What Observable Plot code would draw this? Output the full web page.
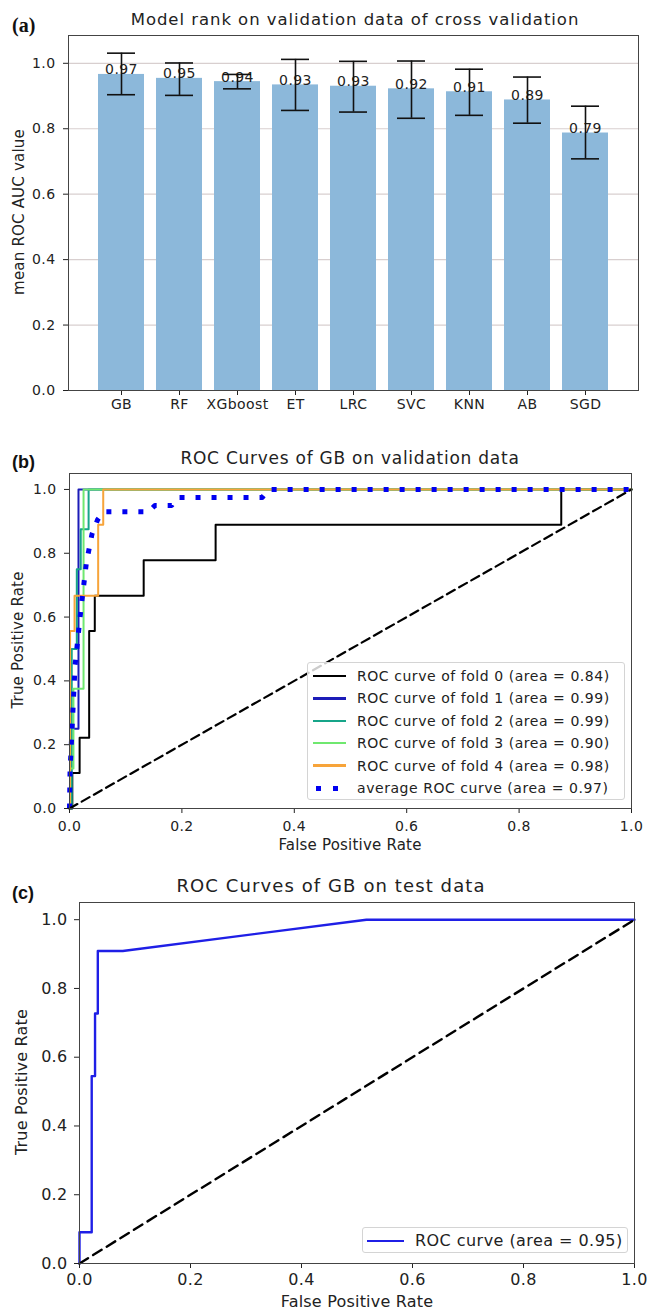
<!DOCTYPE html>
<html><head><meta charset="utf-8">
<script src="https://cdn.jsdelivr.net/npm/d3@7"></script>
<script src="https://cdn.jsdelivr.net/npm/@observablehq/plot@0.6"></script>
<style>
body{margin:0;background:#fff;}
#root{position:relative;width:648px;height:1310px;font-family:"DejaVu Sans",sans-serif;color:#222;overflow:hidden;background:#fff}
.abs{position:absolute;white-space:nowrap;line-height:1}
.panel{position:absolute;left:0}
.letter{font-family:"Liberation Serif",serif;font-weight:bold;font-size:20px;color:#111;transform:translate(0,-50%)}
.letter2{font-family:"Liberation Sans",sans-serif;font-weight:bold;font-size:18px;color:#111;transform:translate(0,-50%)}
.ctr{transform:translate(-50%,-50%)}
.ylab{transform:translate(-50%,-50%) rotate(-90deg)}
.legend{position:absolute;background:rgba(255,255,255,0.8);border:1px solid #d4d4d4;border-radius:3px;box-sizing:border-box}
</style></head><body><div id="root"></div><script>
// ---------- Panel (a) data ----------
const models = ["GB","RF","XGboost","ET","LRC","SVC","KNN","AB","SGD"];
const meanAuc = [0.966,0.954,0.944,0.934,0.930,0.922,0.913,0.888,0.787];
const aucLow  = [0.904,0.902,0.922,0.856,0.851,0.832,0.841,0.817,0.708];
const aucHigh = [1.031,1.001,0.966,1.012,1.006,1.007,0.982,0.958,0.869];
const aucTicks = [0,0.2,0.4,0.6,0.8,1.0];

// ---------- Panel (b) data ----------
const foldNames = ["fold 0","fold 1","fold 2","fold 3","fold 4"];
const foldAreas = ["0.84","0.99","0.99","0.90","0.98"];
const fold0Fpr = [0,0.005,0.005,0.018,0.018,0.035,0.035,0.045,0.045,0.132,0.132,0.26,0.26,0.875,0.875,1];
const fold0Tpr = [0,0,0.111,0.111,0.222,0.222,0.556,0.556,0.667,0.667,0.778,0.778,0.889,0.889,1,1];
const fold1Fpr = [0,0.003,0.003,0.016,0.016,1];
const fold1Tpr = [0,0,0.25,0.25,1,1];
const fold2Fpr = [0,0.004,0.004,0.013,0.013,0.02,0.02,0.034,0.034,1];
const fold2Tpr = [0,0,0.5,0.5,0.75,0.75,0.875,0.875,1,1];
const fold3Fpr = [0,0.001,0.001,0.007,0.007,0.025,0.025,1];
const fold3Tpr = [0,0,0.125,0.125,0.375,0.375,1,1];
const fold4Fpr = [0,0.001,0.001,0.009,0.009,0.051,0.051,0.06,0.06,1];
const fold4Tpr = [0,0,0.556,0.556,0.667,0.667,0.889,0.889,1,1];
const avgArea = "0.97";
const avgFpr = [0,0.001,0.01,0.02,0.03,0.04,0.05,0.06,0.141,0.152,0.182,0.192,0.343,0.354,1];
const avgTpr = [0,0.12,0.45,0.62,0.77,0.86,0.905,0.93,0.93,0.95,0.95,0.975,0.975,1,1];
const chanceFpr = [0,1];
const chanceTpr = [0,1];
const rateTicks = [0,0.2,0.4,0.6,0.8,1.0];

// ---------- Panel (c) data ----------
const testArea = "0.95";
const testFpr = [0,0,0.022,0.022,0.028,0.028,0.033,0.033,0.078,0.517,1];
const testTpr = [0,0.091,0.091,0.545,0.545,0.727,0.727,0.909,0.909,1,1];

// ---------- styles ----------
const foldColors = ["#000000","#1c1cb8","#17a589","#6fe86f","#f7a43a"];
const fmt1 = d3.format(".1f"), fmt2 = d3.format(".2f");
const root = document.getElementById("root");

function place(html, x, y, cls, extra){
  const d = document.createElement("div");
  d.className = "abs " + cls;
  d.style.left = x + "px"; d.style.top = y + "px";
  if (extra) Object.assign(d.style, extra);
  d.textContent = html;
  root.appendChild(d);
  return d;
}
function mount(svg, top){
  svg.classList.add("panel");
  svg.style.top = top + "px";
  root.appendChild(svg);
}
const pts = (xs, ys) => xs.map((x,i)=>({fpr:x, tpr:ys[i]}));

// ================= Panel (a) =================
const barRows = models.map((m,i)=>({model:m, auc:meanAuc[i], lo:aucLow[i], hi:aucHigh[i]}));
const chartA = Plot.plot({
  width:648, height:400, marginTop:7, marginBottom:38, marginLeft:68, marginRight:10,
  style:{fontFamily:"DejaVu Sans", fontSize:"14px", color:"#222", background:"transparent", letterSpacing:"0.4px", overflow:"visible"},
  x:{domain:models, paddingInner:0.2, paddingOuter:0.44, align:0.5, label:null},
  y:{domain:[0,1.085], label:null},
  marks:[
    Plot.gridY(aucTicks.slice(1), {stroke:"#d8cfcf", strokeOpacity:1, strokeWidth:1.2}),
    Plot.barY(barRows, {x:"model", y:"auc", fill:"#8cb8da"}),
    Plot.text(barRows, {x:"model", y:"auc", text:d=>fmt2(d.auc), lineAnchor:"bottom", fill:"#222", fontSize:14}),
    Plot.ruleX(barRows, {x:"model", y1:"lo", y2:"hi", stroke:"#111", strokeWidth:1.6}),
    Plot.tickY(barRows, {x:"model", y:"lo", stroke:"#111", strokeWidth:1.6, insetLeft:9, insetRight:9}),
    Plot.tickY(barRows, {x:"model", y:"hi", stroke:"#111", strokeWidth:1.6, insetLeft:9, insetRight:9}),
    Plot.axisY(aucTicks, {tickSize:5, tickPadding:8, tickFormat:fmt1, label:null}),
    Plot.axisX({tickSize:5, tickPadding:4, label:null}),
    Plot.frame({stroke:"#444"})
  ]
});
mount(chartA, 28);
place("(a)", 12, 25, "letter");
place("Model rank on validation data of cross validation", 355, 20, "ctr", {fontSize:"16.5px", letterSpacing:"0.95px"});
place("mean ROC AUC value", 19, 212, "ylab", {fontSize:"15px", letterSpacing:"0.2px"});

// ================= Panel (b) =================
const foldPts = [pts(fold0Fpr,fold0Tpr), pts(fold1Fpr,fold1Tpr), pts(fold2Fpr,fold2Tpr), pts(fold3Fpr,fold3Tpr), pts(fold4Fpr,fold4Tpr)];
const chartB = Plot.plot({
  width:648, height:385, marginTop:3, marginBottom:47, marginLeft:69, marginRight:17,
  style:{fontFamily:"DejaVu Sans", fontSize:"14px", color:"#222", background:"transparent", letterSpacing:"0.4px", overflow:"visible"},
  x:{domain:[0,1], label:null},
  y:{domain:[0,1.05], label:null},
  marks:[
    ...foldPts.map((p,i)=>Plot.line(p, {x:"fpr", y:"tpr", stroke:foldColors[i], strokeWidth:2})),
    Plot.line(pts(avgFpr,avgTpr), {x:"fpr", y:"tpr", stroke:"#0000f0", strokeWidth:5, strokeDasharray:"5,11", strokeLinecap:"butt"}),
    Plot.line(pts(chanceFpr,chanceTpr), {x:"fpr", y:"tpr", stroke:"#000", strokeWidth:2.2, strokeDasharray:"9,5"}),
    Plot.axisY(rateTicks, {tickSize:5, tickPadding:8, tickFormat:fmt1, label:null}),
    Plot.axisX(rateTicks, {tickSize:5, tickPadding:8, tickFormat:fmt1, label:null}),
    Plot.frame({stroke:"#444"})
  ]
});
mount(chartB, 470);
place("(b)", 12, 462, "letter2");
place("ROC Curves of GB on validation data", 350, 458, "ctr", {fontSize:"17px", letterSpacing:"0.75px"});
place("True Positive Rate", 18, 640, "ylab", {fontSize:"15px", letterSpacing:"0.2px"});
place("False Positive Rate", 350, 845, "ctr", {fontSize:"15px", letterSpacing:"0.2px"});

const legB = document.createElement("div");
legB.className = "legend";
Object.assign(legB.style, {left:"307px", top:"662px", width:"318px", height:"138px"});
root.appendChild(legB);
const legLabelsB = foldNames.map((f,i)=>`ROC curve of ${f} (area = ${foldAreas[i]})`).concat([`average ROC curve (area = ${avgArea})`]);
legLabelsB.forEach((lab,i)=>{
  const cy = 13 + 22.4*i;
  if (i < 5) {
    const s = document.createElement("div");
    Object.assign(s.style, {position:"absolute", left:"5px", width:"33px", top:(cy-1.3)+"px", height:"2.6px", background:foldColors[i]});
    legB.appendChild(s);
  } else {
    [8, 25].forEach(x=>{
      const s = document.createElement("div");
      Object.assign(s.style, {position:"absolute", left:x+"px", width:"5px", top:(cy-2.5)+"px", height:"5px", background:"#0000f0"});
      legB.appendChild(s);
    });
  }
  const t = document.createElement("div");
  t.className = "abs";
  Object.assign(t.style, {left:"49px", top:cy+"px", fontSize:"14px", letterSpacing:"0.55px", transform:"translate(0,-50%)"});
  t.textContent = lab;
  legB.appendChild(t);
});

// ================= Panel (c) =================
const chartC = Plot.plot({
  width:648, height:412, marginTop:4, marginBottom:47, marginLeft:79, marginRight:14,
  style:{fontFamily:"DejaVu Sans", fontSize:"16px", color:"#222", background:"transparent", letterSpacing:"0.3px", overflow:"visible"},
  x:{domain:[0,1], label:null},
  y:{domain:[0,1.05], label:null},
  marks:[
    Plot.line(pts(testFpr,testTpr), {x:"fpr", y:"tpr", stroke:"#1f1fe6", strokeWidth:2.4}),
    Plot.line(pts(chanceFpr,chanceTpr), {x:"fpr", y:"tpr", stroke:"#000", strokeWidth:2.4, strokeDasharray:"10,6"}),
    Plot.axisY(rateTicks, {tickSize:5, tickPadding:7, tickFormat:fmt1, label:null}),
    Plot.axisX(rateTicks, {tickSize:5, tickPadding:5, tickFormat:fmt1, label:null}),
    Plot.frame({stroke:"#444"})
  ]
});
mount(chartC, 898);
place("(c)", 12, 893, "letter2");
place("ROC Curves of GB on test data", 331, 886, "ctr", {fontSize:"18px", letterSpacing:"1.1px"});
place("True Positive Rate", 22, 1082, "ylab", {fontSize:"16px", letterSpacing:"0.2px"});
place("False Positive Rate", 357, 1302, "ctr", {fontSize:"16px", letterSpacing:"0.2px"});

const legC = document.createElement("div");
legC.className = "legend";
Object.assign(legC.style, {left:"362px", top:"1227px", width:"266px", height:"26px"});
root.appendChild(legC);
{
  const s = document.createElement("div");
  Object.assign(s.style, {position:"absolute", left:"4px", width:"37px", top:"11.5px", height:"2.6px", background:"#1f1fe6"});
  legC.appendChild(s);
  const t = document.createElement("div");
  t.className = "abs";
  Object.assign(t.style, {left:"52px", top:"13px", fontSize:"16px", letterSpacing:"0.45px", transform:"translate(0,-50%)"});
  t.textContent = `ROC curve (area = ${testArea})`;
  legC.appendChild(t);
}
</script></body></html>
